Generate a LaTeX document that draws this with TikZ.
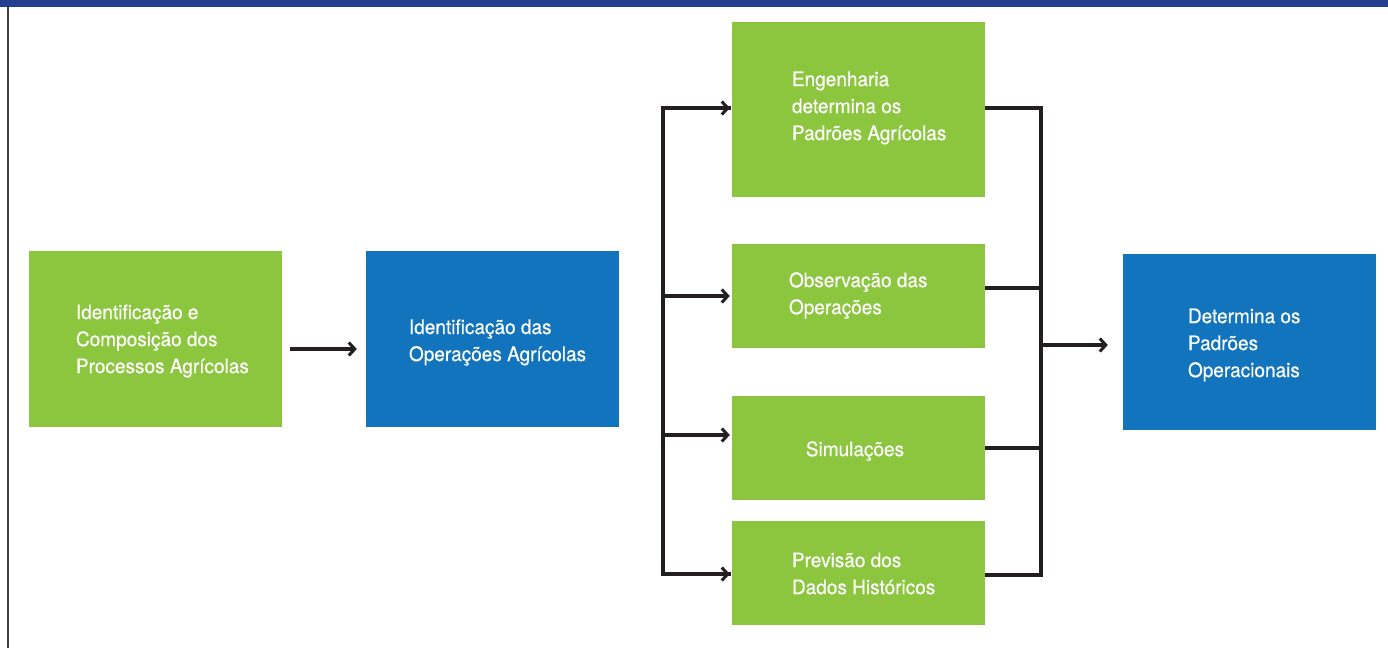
\documentclass[tikz,border=0pt]{standalone}
\usepackage{fontspec}
\setmainfont{TeX Gyre Heros}[FakeStretch=0.95,FakeBold=0.4]
\usetikzlibrary{arrows.meta}
\definecolor{agreen}{HTML}{8CC63F}
\definecolor{ablue}{HTML}{1174BD}
\definecolor{topbar}{HTML}{243F8E}
\definecolor{lnc}{HTML}{231F20}
\begin{document}
\begin{tikzpicture}[x=1pt,y=-1pt,
  box/.style={draw=none,inner sep=0,minimum width=253pt},
  gbox/.style={box,fill=agreen},
  bbox/.style={box,fill=ablue},
  lbl/.style={text=white,font=\fontsize{20}{27}\selectfont,align=left,anchor=west,inner sep=0},
  ln/.style={line width=3.2pt,draw=lnc},
  arr/.style={ln,-{Straight Barb[length=6pt,width=13pt,line width=3pt]}}]

\useasboundingbox (0,0) rectangle (1388,648);
\fill[white] (0,0) rectangle (1388,648);
\fill[topbar] (0,0) rectangle (1388,7);
\draw[line width=2pt, black!75] (8,7) -- (8,648);

% boxes
\node[gbox,minimum height=176pt] (A) at (155.5,339) {};
\node[bbox,minimum height=176pt] (B) at (492.5,339) {};
\node[gbox,minimum height=175pt] (C1) at (858.5,109.5) {};
\node[gbox,minimum height=104pt] (C2) at (858.5,296) {};
\node[gbox,minimum height=104pt] (C3) at (858.5,448) {};
\node[gbox,minimum height=104pt] (C4) at (858.5,573) {};
\node[bbox,minimum height=176pt] (D) at (1249.5,342) {};

% texts
\node[lbl] (tA) at ([xshift=47pt]A.west |- 0,341) {Identificação e\\Composição dos\\Processos Agrícolas};
\node[lbl] (tB) at ([xshift=43pt]B.west |- 0,342.5) {Identificação das\\Operações Agrícolas};
\node[lbl] (tC1) at ([xshift=60pt]C1.west |- 0,108) {Engenharia\\determina os\\Padrões Agrícolas};
\node[lbl] (tC2) at ([xshift=57pt]C2.west |- 0,295.5) {Observação das\\Operações};
\node[lbl,anchor=center] (tC3) at (855,451) {Simulações};
\node[lbl] (tC4) at ([xshift=60pt]C4.west |- 0,573.5) {Previsão dos\\Dados Históricos};
\node[lbl] (tD) at ([xshift=65pt]D.west |- 0,345) {Determina os\\Padrões\\Operacionais};

% A -> B
\coordinate (ab) at (290,349);
\draw[arr] (ab) -- ([xshift=-9pt]B.west |- ab);

% left bus
\coordinate (L1) at (663,108);
\coordinate (L2) at (663,296);
\coordinate (L3) at (663,435);
\coordinate (L4) at (663,574);
\draw[ln,line cap=rect,line join=miter] ([xshift=-2pt]C1.west |- L1) -- (L1) -- (L4) -- ([xshift=-2pt]C4.west |- L4);
\draw[arr] (L1) -- ([xshift=-2pt]C1.west |- L1);
\draw[arr] (L2) -- ([xshift=-2pt]C2.west |- L2);
\draw[arr] (L3) -- ([xshift=-2pt]C3.west |- L3);
\draw[arr] (L4) -- ([xshift=-2pt]C4.west |- L4);

% right bus
\coordinate (R1) at (1041,108);
\coordinate (R2) at (1041,288);
\coordinate (R3) at (1041,448);
\coordinate (R4) at (1041,575);
\coordinate (RM) at (1041,345);
\draw[ln,line join=miter] (C1.east |- R1) -- (R1) -- (R4) -- (C4.east |- R4);
\draw[ln] (C2.east |- R2) -- (R2);
\draw[ln] (C3.east |- R3) -- (R3);
\draw[arr] (RM) -- ([xshift=-15pt]D.west |- RM);
\end{tikzpicture}
\end{document}
